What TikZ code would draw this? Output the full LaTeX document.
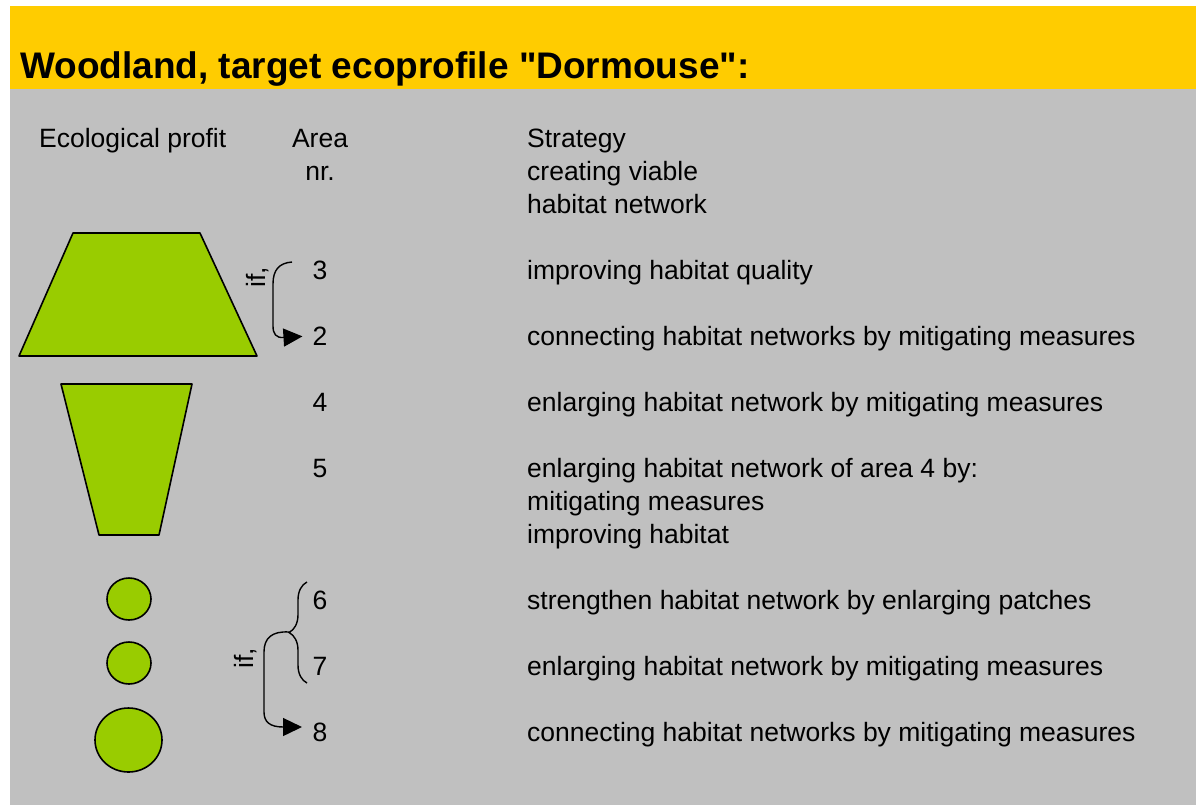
\documentclass[tikz,border=0pt]{standalone}
\usepackage{fontspec}
\setmainfont{Liberation Sans}[Ligatures=TeXOff]
\usetikzlibrary{arrows.meta,decorations.pathreplacing}

\definecolor{banner}{HTML}{FFCC00}
\definecolor{panel}{HTML}{C0C0C0}
\definecolor{profit}{HTML}{99CC00}

\begin{document}
\begin{tikzpicture}[
    x=1pt, y=-1pt,
    txt/.style={anchor=base west, inner sep=0pt, font=\fontsize{26.5}{33}\selectfont},
    nr/.style={anchor=base, inner sep=0pt, font=\fontsize{26.5}{33}\selectfont},
    title/.style={anchor=base west, inner sep=0pt, font=\fontsize{37}{40}\selectfont\bfseries},
    profitshape/.style={draw=black, line width=1.6pt, fill=profit, line join=round},
    link/.style={draw=black, line width=1.4pt},
    tiphead/.style={-{Triangle[length=19pt,width=18pt]}},
    cond/.style={rotate=90, inner sep=0pt, font=\fontsize{26.5}{33}\selectfont},
]
\useasboundingbox (0,0) rectangle (1196,807);

% Background
\fill[panel] (10,88) rectangle (1196,805);
\fill[banner] (10,6) rectangle (1196,89);
\node[title] (ttl) at (20,78) {Woodland, target ecoprofile "Dormouse":};

% Column heads (multi-line nodes sit on their last baseline)
\node[txt] (hprofit) at (39,147) {Ecological profit};
\node[nr, align=center] (harea) at (320,180) {Area\\nr.};
\node[txt, align=left] (hstrat) at (527,213) {Strategy\\creating viable\\habitat network};

% Profit shapes
\draw[profitshape] (73,233) -- (200,233) -- (257,356) -- (19,356) -- cycle;
\draw[profitshape] (61,384) -- (192,384) -- (159,535) -- (99,535) -- cycle;
\draw[profitshape] (129,599) ellipse (22 and 21);
\draw[profitshape] (129,663) ellipse (22 and 21);
\draw[profitshape] (128.5,740) ellipse (33.5 and 32);

% Area numbers
\node[nr] (n3) at (320,279) {3};
\node[nr] (n2) at (320,345) {2};
\node[nr] (n4) at (320,411) {4};
\node[nr] (n5) at (320,477) {5};
\node[nr] (n6) at (320,609) {6};
\node[nr] (n7) at (320,675) {7};
\node[nr] (n8) at (320,741) {8};

% Strategies
\node[txt] (s3) at (527,279) {improving habitat quality};
\node[txt] (s2) at (527,345) {connecting habitat networks by mitigating measures};
\node[txt] (s4) at (527,411) {enlarging habitat network by mitigating measures};
\node[txt, align=left] (s5) at (527,543) {enlarging habitat network of area 4 by:\\mitigating measures\\improving habitat};
\node[txt] (s6) at (527,609) {strengthen habitat network by enlarging patches};
\node[txt] (s7) at (527,675) {enlarging habitat network by mitigating measures};
\node[txt] (s8) at (527,741) {connecting habitat networks by mitigating measures};

% Conditions
\node[cond] (if1) at (258,277) {if,};
\node[cond] (if2) at (246,658) {if,};

\coordinate (top1) at (292,262);
\coordinate (tip2) at (289,632);
\coordinate (end2) at (302,727);

\draw[link, tiphead, shorten >=10pt] (top1) .. controls (279,263) and (273,270) .. (273,284)
    -- (273,326) .. controls (273,334) and (276,338) .. (n2.west);
\draw[link, decorate, decoration={brace, amplitude=18pt}] (307,683) -- (307,582);
\draw[link, tiphead] (tip2) .. controls (272,631) and (264,638) .. (264,652)
    -- (264,712) .. controls (264,722) and (270,727) .. (end2);

\end{tikzpicture}
\end{document}
